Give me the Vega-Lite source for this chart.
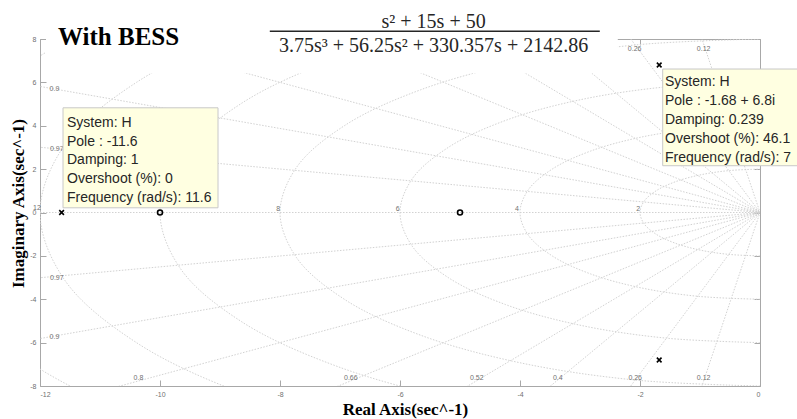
{
  "$schema": "https://vega.github.io/schema/vega-lite/v6.json",
  "width": 720,
  "height": 347,
  "autosize": {"type": "none"},
  "padding": {"left": 40, "top": 39, "right": 37, "bottom": 33},
  "background": "white",
  "config": {
    "view": {"stroke": "#a8a8a8", "strokeWidth": 1},
    "axis": {
      "domain": false,
      "grid": false,
      "ticks": true,
      "tickColor": "#a8a8a8",
      "tickSize": -6,
      "labelFont": "Liberation Sans",
      "labelFontSize": 7,
      "labelColor": "#707070",
      "labelPadding": 10
    }
  },
  "datasets": {
    "circles": [
      {"r":2,"i":0,"x":0,"y":-2},{"r":2,"i":1,"x":-0.518,"y":-1.932},{"r":2,"i":2,"x":-1,"y":-1.732},{"r":2,"i":3,"x":-1.414,"y":-1.414},{"r":2,"i":4,"x":-1.732,"y":-1},{"r":2,"i":5,"x":-1.932,"y":-0.518},{"r":2,"i":6,"x":-2,"y":0},{"r":2,"i":7,"x":-1.932,"y":0.518},{"r":2,"i":8,"x":-1.732,"y":1},{"r":2,"i":9,"x":-1.414,"y":1.414},{"r":2,"i":10,"x":-1,"y":1.732},{"r":2,"i":11,"x":-0.518,"y":1.932},{"r":2,"i":12,"x":0,"y":2},
      {"r":4,"i":0,"x":0,"y":-4},{"r":4,"i":1,"x":-1.035,"y":-3.864},{"r":4,"i":2,"x":-2,"y":-3.464},{"r":4,"i":3,"x":-2.828,"y":-2.828},{"r":4,"i":4,"x":-3.464,"y":-2},{"r":4,"i":5,"x":-3.864,"y":-1.035},{"r":4,"i":6,"x":-4,"y":0},{"r":4,"i":7,"x":-3.864,"y":1.035},{"r":4,"i":8,"x":-3.464,"y":2},{"r":4,"i":9,"x":-2.828,"y":2.828},{"r":4,"i":10,"x":-2,"y":3.464},{"r":4,"i":11,"x":-1.035,"y":3.864},{"r":4,"i":12,"x":0,"y":4},
      {"r":6,"i":0,"x":0,"y":-6},{"r":6,"i":1,"x":-1.553,"y":-5.796},{"r":6,"i":2,"x":-3,"y":-5.196},{"r":6,"i":3,"x":-4.243,"y":-4.243},{"r":6,"i":4,"x":-5.196,"y":-3},{"r":6,"i":5,"x":-5.796,"y":-1.553},{"r":6,"i":6,"x":-6,"y":0},{"r":6,"i":7,"x":-5.796,"y":1.553},{"r":6,"i":8,"x":-5.196,"y":3},{"r":6,"i":9,"x":-4.243,"y":4.243},{"r":6,"i":10,"x":-3,"y":5.196},{"r":6,"i":11,"x":-1.553,"y":5.796},{"r":6,"i":12,"x":0,"y":6},
      {"r":8,"i":0,"x":0,"y":-8},{"r":8,"i":1,"x":-2.071,"y":-7.727},{"r":8,"i":2,"x":-4,"y":-6.928},{"r":8,"i":3,"x":-5.657,"y":-5.657},{"r":8,"i":4,"x":-6.928,"y":-4},{"r":8,"i":5,"x":-7.727,"y":-2.071},{"r":8,"i":6,"x":-8,"y":0},{"r":8,"i":7,"x":-7.727,"y":2.071},{"r":8,"i":8,"x":-6.928,"y":4},{"r":8,"i":9,"x":-5.657,"y":5.657},{"r":8,"i":10,"x":-4,"y":6.928},{"r":8,"i":11,"x":-2.071,"y":7.727},{"r":8,"i":12,"x":0,"y":8},
      {"r":10,"i":0,"x":0,"y":-10},{"r":10,"i":1,"x":-2.588,"y":-9.659},{"r":10,"i":2,"x":-5,"y":-8.66},{"r":10,"i":3,"x":-7.071,"y":-7.071},{"r":10,"i":4,"x":-8.66,"y":-5},{"r":10,"i":5,"x":-9.659,"y":-2.588},{"r":10,"i":6,"x":-10,"y":0},{"r":10,"i":7,"x":-9.659,"y":2.588},{"r":10,"i":8,"x":-8.66,"y":5},{"r":10,"i":9,"x":-7.071,"y":7.071},{"r":10,"i":10,"x":-5,"y":8.66},{"r":10,"i":11,"x":-2.588,"y":9.659},{"r":10,"i":12,"x":0,"y":10},
      {"r":12,"i":0,"x":0,"y":-12},{"r":12,"i":1,"x":-3.106,"y":-11.591},{"r":12,"i":2,"x":-6,"y":-10.392},{"r":12,"i":3,"x":-8.485,"y":-8.485},{"r":12,"i":4,"x":-10.392,"y":-6},{"r":12,"i":5,"x":-11.591,"y":-3.106},{"r":12,"i":6,"x":-12,"y":0},{"r":12,"i":7,"x":-11.591,"y":3.106},{"r":12,"i":8,"x":-10.392,"y":6},{"r":12,"i":9,"x":-8.485,"y":8.485},{"r":12,"i":10,"x":-6,"y":10.392},{"r":12,"i":11,"x":-3.106,"y":11.591},{"r":12,"i":12,"x":0,"y":12},
      {"r":14,"i":0,"x":0,"y":-14},{"r":14,"i":1,"x":-3.623,"y":-13.523},{"r":14,"i":2,"x":-7,"y":-12.124},{"r":14,"i":3,"x":-9.899,"y":-9.899},{"r":14,"i":4,"x":-12.124,"y":-7},{"r":14,"i":5,"x":-13.523,"y":-3.623},{"r":14,"i":6,"x":-14,"y":0},{"r":14,"i":7,"x":-13.523,"y":3.623},{"r":14,"i":8,"x":-12.124,"y":7},{"r":14,"i":9,"x":-9.899,"y":9.899},{"r":14,"i":10,"x":-7,"y":12.124},{"r":14,"i":11,"x":-3.623,"y":13.523},{"r":14,"i":12,"x":0,"y":14}
    ],
    "rays": [
      {"z":"0.12u","x":0,"y":0},{"z":"0.12u","x":-2.4,"y":19.855},
      {"z":"0.12d","x":0,"y":0},{"z":"0.12d","x":-2.4,"y":-19.855},
      {"z":"0.26u","x":0,"y":0},{"z":"0.26u","x":-5.2,"y":19.312},
      {"z":"0.26d","x":0,"y":0},{"z":"0.26d","x":-5.2,"y":-19.312},
      {"z":"0.4u","x":0,"y":0},{"z":"0.4u","x":-8,"y":18.33},
      {"z":"0.4d","x":0,"y":0},{"z":"0.4d","x":-8,"y":-18.33},
      {"z":"0.52u","x":0,"y":0},{"z":"0.52u","x":-10.4,"y":17.083},
      {"z":"0.52d","x":0,"y":0},{"z":"0.52d","x":-10.4,"y":-17.083},
      {"z":"0.66u","x":0,"y":0},{"z":"0.66u","x":-13.2,"y":15.025},
      {"z":"0.66d","x":0,"y":0},{"z":"0.66d","x":-13.2,"y":-15.025},
      {"z":"0.8u","x":0,"y":0},{"z":"0.8u","x":-16,"y":12},
      {"z":"0.8d","x":0,"y":0},{"z":"0.8d","x":-16,"y":-12},
      {"z":"0.9u","x":0,"y":0},{"z":"0.9u","x":-18,"y":8.718},
      {"z":"0.9d","x":0,"y":0},{"z":"0.9d","x":-18,"y":-8.718},
      {"z":"0.97u","x":0,"y":0},{"z":"0.97u","x":-19.4,"y":4.862},
      {"z":"0.97d","x":0,"y":0},{"z":"0.97d","x":-19.4,"y":-4.862},
      {"z":"1","x":0,"y":0},{"z":"1","x":-20,"y":0}
    ],
    "cover": [{"x":-11.9,"x2":-2.37,"y":6.42,"y2":8.6}],
    "gridlabels": [
      {"t":"0.9","x":-11.76,"y":5.71},{"t":"0.97","x":-11.72,"y":2.94},{"t":"0.97","x":-11.72,"y":-3.0},{"t":"0.9","x":-11.76,"y":-5.75},
      {"t":"0.8","x":-10.36,"y":-7.61},{"t":"0.66","x":-6.82,"y":-7.61},{"t":"0.52","x":-4.72,"y":-7.61},{"t":"0.4","x":-3.37,"y":-7.61},{"t":"0.26","x":-2.08,"y":-7.61},{"t":"0.12","x":-0.94,"y":-7.61},
      {"t":"0.26","x":-2.09,"y":7.55},{"t":"0.12","x":-0.94,"y":7.55},
      {"t":"12","x":-12.05,"y":0.2},{"t":"8","x":-8.03,"y":0.18},{"t":"6","x":-6.04,"y":0.18},{"t":"4","x":-4.05,"y":0.18},{"t":"2","x":-2.03,"y":0.18}
    ],
    "zeros": [{"re":-10,"im":0},{"re":-5,"im":0}],
    "poles": [{"re":-11.64,"im":0},{"re":-1.68,"im":6.8},{"re":-1.68,"im":-6.8}],
    "tips": [
      {"tip":"a","re":-11.64,"im":0,"lines":["System: H","Pole : -11.6","Damping: 1","Overshoot (%): 0","Frequency (rad/s): 11.6"]},
      {"tip":"b","re":-1.68,"im":6.8,"lines":["System: H","Pole : -1.68 + 6.8i","Damping: 0.239","Overshoot (%): 46.1","Frequency (rad/s): 7"]}
    ],
    "heading": [{"t":"With BESS","x":-10.69,"y":7.74}],
    "equation": [
      {"t":"s² + 15s + 50","x":-5.44,"y":8.52},
      {"t":"3.75s³ + 56.25s² + 330.357s + 2142.86","x":-5.44,"y":7.42}
    ],
    "bar": [{"x":-8.17,"x2":-2.67,"y":8.36}]
  },
  "layer": [
    {
      "data": {"name": "circles"},
      "mark": {"type": "line", "clip": true, "interpolate": "catmull-rom", "stroke": "#d2d2d2", "strokeWidth": 1, "strokeDash": [1.5, 1.5]},
      "encoding": {
        "x": {"field": "x", "type": "quantitative", "scale": {"domain": [-12, 0], "nice": false, "zero": false},
          "axis": {"orient": "bottom", "values": [-12, -10, -8, -6, -4, -2, 0], "labelExpr": "'' + datum.value",
            "title": "Real Axis(sec^-1)", "titleFont": "Liberation Serif", "titleFontSize": 17, "titleFontWeight": "bold", "titleColor": "#000000",
            "titleX": 365, "titleY": 28, "titleBaseline": "alphabetic", "titleAlign": "center"}},
        "y": {"field": "y", "type": "quantitative", "scale": {"domain": [-8, 8], "nice": false, "zero": false},
          "axis": {"orient": "left", "values": [-8, -6, -4, -2, 0, 2, 4, 6, 8], "labelExpr": "'' + datum.value",
            "title": "Imaginary Axis(sec^-1)", "titleFont": "Liberation Serif", "titleFontSize": 17, "titleFontWeight": "bold", "titleColor": "#000000",
            "titleX": -17, "titleY": 164, "titleAngle": -90, "titleBaseline": "alphabetic", "titleAlign": "center"}},
        "detail": {"field": "r"},
        "order": {"field": "i"}
      }
    },
    {
      "data": {"name": "rays"},
      "mark": {"type": "line", "clip": true, "stroke": "#d2d2d2", "strokeWidth": 1, "strokeDash": [1.5, 1.5]},
      "encoding": {
        "x": {"field": "x", "type": "quantitative", "axis": {"orient": "top", "values": [-12, -10, -8, -6, -4, -2, 0], "labels": false, "title": null}},
        "y": {"field": "y", "type": "quantitative", "axis": {"orient": "right", "values": [-8, -6, -4, -2, 0, 2, 4, 6, 8], "labels": false, "title": null}},
        "detail": {"field": "z"}
      }
    },
    {
      "data": {"name": "cover"},
      "mark": {"type": "rect", "fill": "#ffffff"},
      "encoding": {
        "x": {"field": "x", "type": "quantitative", "axis": null},
        "x2": {"field": "x2"},
        "y": {"field": "y", "type": "quantitative", "axis": null},
        "y2": {"field": "y2"}
      }
    },
    {
      "data": {"name": "gridlabels"},
      "mark": {"type": "text", "font": "Liberation Sans", "fontSize": 7, "fill": "#707070", "align": "center", "baseline": "middle"},
      "encoding": {
        "x": {"field": "x", "type": "quantitative", "axis": null},
        "y": {"field": "y", "type": "quantitative", "axis": null},
        "text": {"field": "t"}
      }
    },
    {
      "data": {"name": "zeros"},
      "mark": {"type": "point", "shape": "circle", "size": 25, "filled": false, "stroke": "#000000", "strokeWidth": 1.6, "opacity": 1},
      "encoding": {
        "x": {"field": "re", "type": "quantitative", "axis": null},
        "y": {"field": "im", "type": "quantitative", "axis": null}
      }
    },
    {
      "data": {"name": "poles"},
      "mark": {"type": "point", "shape": "M-1,-1L1,1M-1,1L1,-1", "size": 22, "filled": false, "stroke": "#000000", "strokeWidth": 1.6, "opacity": 1},
      "encoding": {
        "x": {"field": "re", "type": "quantitative", "axis": null},
        "y": {"field": "im", "type": "quantitative", "axis": null}
      }
    },
    {
      "data": {"name": "tips"},
      "transform": [{"filter": "datum.tip === 'a'"}],
      "mark": {"type": "rect", "fill": "#ffffe1", "stroke": "#c8c8c8", "strokeWidth": 1, "xOffset": 1.4, "x2Offset": 156.4, "yOffset": -104.7, "y2Offset": -4.7},
      "encoding": {
        "x": {"field": "re", "type": "quantitative", "axis": null},
        "x2": {"field": "re"},
        "y": {"field": "im", "type": "quantitative", "axis": null},
        "y2": {"field": "im"}
      }
    },
    {
      "data": {"name": "tips"},
      "transform": [{"filter": "datum.tip === 'a'"}],
      "mark": {"type": "text", "font": "Liberation Sans", "fontSize": 14, "fill": "#262626", "align": "left", "baseline": "alphabetic", "lineHeight": 18.7, "dx": 5.4, "dy": -85.4},
      "encoding": {
        "x": {"field": "re", "type": "quantitative", "axis": null},
        "y": {"field": "im", "type": "quantitative", "axis": null},
        "text": {"field": "lines"}
      }
    },
    {
      "data": {"name": "tips"},
      "transform": [{"filter": "datum.tip === 'b'"}],
      "mark": {"type": "rect", "fill": "#ffffe1", "stroke": "#c8c8c8", "strokeWidth": 1, "xOffset": 3.5, "x2Offset": 142, "yOffset": 4, "y2Offset": 100.7},
      "encoding": {
        "x": {"field": "re", "type": "quantitative", "axis": null},
        "x2": {"field": "re"},
        "y": {"field": "im", "type": "quantitative", "axis": null},
        "y2": {"field": "im"}
      }
    },
    {
      "data": {"name": "tips"},
      "transform": [{"filter": "datum.tip === 'b'"}],
      "mark": {"type": "text", "font": "Liberation Sans", "fontSize": 14, "fill": "#262626", "align": "left", "baseline": "alphabetic", "lineHeight": 19, "dx": 5.8, "dy": 20.7},
      "encoding": {
        "x": {"field": "re", "type": "quantitative", "axis": null},
        "y": {"field": "im", "type": "quantitative", "axis": null},
        "text": {"field": "lines"}
      }
    },
    {
      "data": {"name": "heading"},
      "mark": {"type": "text", "font": "Liberation Serif", "fontSize": 25, "fontWeight": "bold", "fill": "#000000", "align": "center", "baseline": "alphabetic"},
      "encoding": {
        "x": {"field": "x", "type": "quantitative", "axis": null},
        "y": {"field": "y", "type": "quantitative", "axis": null},
        "text": {"field": "t"}
      }
    },
    {
      "data": {"name": "equation"},
      "mark": {"type": "text", "font": "Liberation Serif", "fontSize": 20, "fill": "#262626", "align": "center", "baseline": "alphabetic"},
      "encoding": {
        "x": {"field": "x", "type": "quantitative", "axis": null},
        "y": {"field": "y", "type": "quantitative", "axis": null},
        "text": {"field": "t"}
      }
    },
    {
      "data": {"name": "bar"},
      "mark": {"type": "rule", "stroke": "#262626", "strokeWidth": 1.5},
      "encoding": {
        "x": {"field": "x", "type": "quantitative", "axis": null},
        "x2": {"field": "x2"},
        "y": {"field": "y", "type": "quantitative", "axis": null}
      }
    }
  ],
  "resolve": {"axis": {"x": "independent", "y": "independent"}}
}
